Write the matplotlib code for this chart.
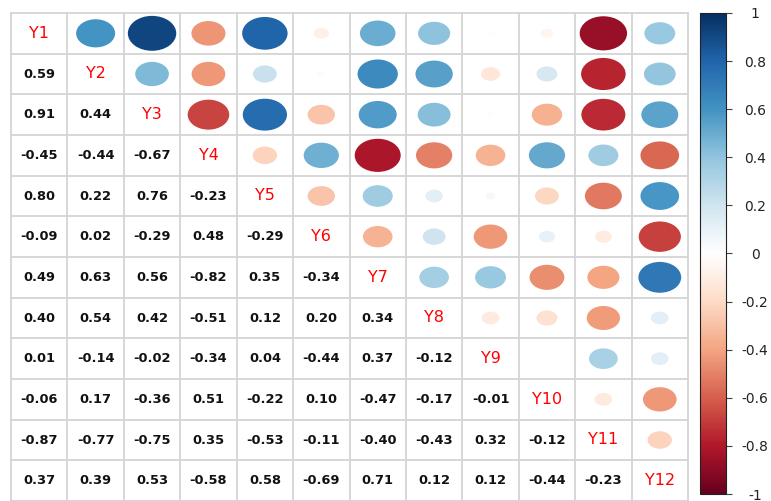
import numpy as np
import matplotlib
matplotlib.use('Agg')
import matplotlib.pyplot as plt
from matplotlib.colors import LinearSegmentedColormap, Normalize
from matplotlib.patches import Ellipse
import matplotlib.cm as cm

labels = ['Y1', 'Y2', 'Y3', 'Y4', 'Y5', 'Y6', 'Y7', 'Y8', 'Y9', 'Y10', 'Y11', 'Y12']
lower_rows = [
    [0.59],
    [0.91, 0.44],
    [-0.45, -0.44, -0.67],
    [0.80, 0.22, 0.76, -0.23],
    [-0.09, 0.02, -0.29, 0.48, -0.29],
    [0.49, 0.63, 0.56, -0.82, 0.35, -0.34],
    [0.40, 0.54, 0.42, -0.51, 0.12, 0.20, 0.34],
    [0.01, -0.14, -0.02, -0.34, 0.04, -0.44, 0.37, -0.12],
    [-0.06, 0.17, -0.36, 0.51, -0.22, 0.10, -0.47, -0.17, -0.01],
    [-0.87, -0.77, -0.75, 0.35, -0.53, -0.11, -0.40, -0.43, 0.32, -0.12],
    [0.37, 0.39, 0.53, -0.58, 0.58, -0.69, 0.71, 0.12, 0.12, -0.44, -0.23],
]
cbar_ticks = [-1, -0.8, -0.6, -0.4, -0.2, 0, 0.2, 0.4, 0.6, 0.8, 1]
palette = ["#67001F", "#B2182B", "#D6604D", "#F4A582", "#FDDBC7", "#FFFFFF",
           "#D1E5F0", "#92C5DE", "#4393C3", "#2166AC", "#053061"]

n = len(labels)
corr = np.eye(n)
for i, row in enumerate(lower_rows, start=1):
    for j, v in enumerate(row):
        corr[i, j] = v
        corr[j, i] = v

cmap = LinearSegmentedColormap.from_list('corr', palette, N=200)
norm = Normalize(-1, 1)

fig = plt.figure(figsize=(7.71, 5.01), dpi=100)
ax = fig.add_axes([11 / 771, 0, 677 / 771, 488 / 501])
ax.set_xlim(0, n)
ax.set_ylim(n, 0)
ax.axis('off')

grid_col = '#d4d4d4'
for k in range(n + 1):
    ax.plot([k, k], [0, n], color=grid_col, lw=1.3, clip_on=False, zorder=1)
    ax.plot([0, n], [k, k], color=grid_col, lw=1.3, clip_on=False, zorder=1)

for i in range(n):
    for j in range(n):
        cx, cy = j + 0.5, i + 0.5
        r = corr[i, j]
        if i == j:
            ax.text(cx, cy, labels[i], color='red', fontsize=11.5,
                    ha='center', va='center', family='DejaVu Sans')
        elif i > j:
            ax.text(cx, cy, f"{r:.2f}", color='#111111', fontsize=9.4,
                    fontweight='bold', ha='center', va='center', family='DejaVu Sans')
        else:
            d = 0.9 * np.sqrt(abs(r))
            ax.add_patch(Ellipse((cx, cy), d, d, facecolor=cmap(norm(r)),
                                 edgecolor='none', zorder=2))

cax = fig.add_axes([700 / 771, 7 / 501, 26 / 771, 481 / 501])
sm = cm.ScalarMappable(norm=norm, cmap=cmap)
cb = fig.colorbar(sm, cax=cax, ticks=cbar_ticks)
cb.outline.set_linewidth(0.8)
cb.outline.set_edgecolor('#222222')
cb.ax.set_yticklabels(['0' if abs(t) < 1e-9 else f"{t:g}" for t in cbar_ticks])
cb.ax.tick_params(direction='out', length=4.5, width=0.8, color='#444444',
                  labelsize=10, labelcolor='#222222', pad=16.5)
for t in cb.ax.get_yticklabels():
    t.set_ha('center')

fig.savefig('out.png', dpi=100)
